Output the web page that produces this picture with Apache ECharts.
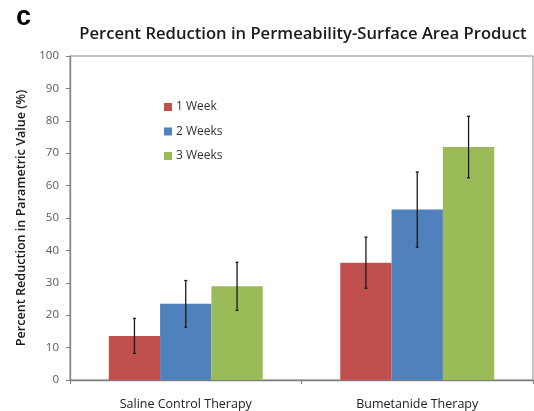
<!DOCTYPE html>
<html><head><meta charset="utf-8">
<script src="https://cdn.jsdelivr.net/npm/echarts@6/dist/echarts.min.js"></script>
<style>html,body{margin:0;padding:0;background:#fff}#c{width:534px;height:411px}</style>
</head><body><div id="c"></div>
<script>
const categories = ['Saline Control Therapy', 'Bumetanide Therapy'];
const seriesNames = ['1 Week', '2 Weeks', '3 Weeks'];
const week1 = [13.6, 36.2];
const week2 = [23.5, 52.6];
const week3 = [28.9, 71.9];
const err1 = [5.4, 7.9];
const err2 = [7.2, 11.6];
const err3 = [7.4, 9.5];
const yTicks = [0, 10, 20, 30, 40, 50, 60, 70, 80, 90, 100];

const colors = ['#C0504D', '#4F81BD', '#9BBB59'];
const values = [week1, week2, week3];
const errs = [err1, err2, err3];
const gapFrac = 0.335;

const chart = echarts.init(document.getElementById('c'));
const series = [];
values.forEach((v, i) => {
  series.push({
    name: seriesNames[i], type: 'bar', data: v, barGap: '0%', barCategoryGap: '33.5%',
    itemStyle: { color: colors[i] }, z: 2
  });
});
values.forEach((v, i) => {
  series.push({
    type: 'custom', silent: true, z: 5,
    data: v.map((val, k) => [k, val, errs[i][k]]),
    renderItem: function (params, api) {
      const band = api.size([1, 0])[0];
      const bw = band * (1 - gapFrac) / 3;
      const c0 = api.coord([api.value(0), api.value(1)]);
      const x = c0[0] + (i - 1) * bw;
      const hi = api.coord([api.value(0), api.value(1) + api.value(2)])[1];
      const lo = api.coord([api.value(0), api.value(1) - api.value(2)])[1];
      const st = { stroke: '#1a1a1a', lineWidth: 1.3 };
      return { type: 'group', children: [
        { type: 'line', shape: { x1: x, y1: hi, x2: x, y2: lo }, style: st },
        { type: 'line', shape: { x1: x - 1.5, y1: hi, x2: x + 1.5, y2: hi }, style: st },
        { type: 'line', shape: { x1: x - 1.5, y1: lo, x2: x + 1.5, y2: lo }, style: st }
      ]};
    }
  });
});

chart.setOption({
  animation: false,
  backgroundColor: '#fff',
  graphic: [
    { type: 'text', left: 16, top: 4, style: { text: 'c', font: 'bold 27px "Liberation Sans", Arial', fill: '#000' } }
  ],
  title: {
    text: 'Percent Reduction in Permeability-Surface Area Product',
    left: 298, top: 21, textAlign: 'center',
    textStyle: { fontFamily: '"Open Sans", "DejaVu Sans", sans-serif', fontSize: 16.6, fontWeight: 600, color: '#1a1a1a' }
  },
  legend: {
    orient: 'vertical', left: 159, top: 96, itemGap: 12.5, itemWidth: 8, itemHeight: 8,
    icon: 'rect', data: seriesNames,
    textStyle: { fontFamily: '"Open Sans", sans-serif', fontSize: 12, color: '#333', padding: [0, 0, 0, -1] }
  },
  grid: { left: 70, right: 1, top: 56, bottom: 30, show: true, borderColor: '#8c8c8c', borderWidth: 1 },
  xAxis: {
    type: 'category', data: categories,
    axisLine: { lineStyle: { color: '#7f7f7f', width: 1.3 } },
    axisTick: { show: true, alignWithLabel: false, length: 4, lineStyle: { color: '#7f7f7f' } },
    axisLabel: { fontFamily: '"Open Sans", sans-serif', fontSize: 12.5, color: '#222', margin: 18 }
  },
  yAxis: {
    type: 'value', min: 0, max: 100, interval: 10,
    name: 'Percent Reduction in Parametric Value (%)', nameLocation: 'middle', nameGap: 34,
    nameTextStyle: { fontFamily: '"Open Sans", sans-serif', fontSize: 12.6, fontWeight: 600, color: '#1a1a1a' },
    axisLine: { show: true, lineStyle: { color: '#7f7f7f', width: 1.3 } },
    axisTick: { show: true, length: 4, lineStyle: { color: '#7f7f7f' } },
    splitLine: { show: false },
    axisLabel: { fontFamily: '"Open Sans", sans-serif', fontSize: 11.5, color: '#595959', margin: 11,
      formatter: v => yTicks.includes(v) ? String(v) : '' }
  },
  series: series
});
</script></body></html>
